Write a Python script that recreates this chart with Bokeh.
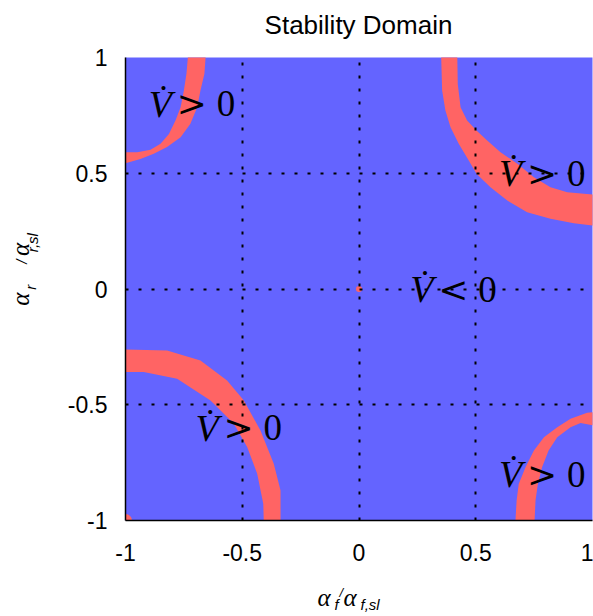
import numpy as np
from bokeh.plotting import figure
from bokeh.models import Range1d
from bokeh.layouts import column, row
from bokeh.core.properties import value
from bokeh.embed import file_html
from bokeh.resources import INLINE

RED = "#ff6464"
BLUE = "#6464ff"

# ---------------- data ----------------
ticks = [-1, -0.5, 0, 0.5, 1]
tick_labels = ["-1", "-0.5", "0", "0.5", "1"]

# band boundaries, measured as distances (u, v) from the corner of the domain
# top-left corner (-1, 1)
tl_outer_u = [0.343, 0.338, 0.321, 0.307, 0.278, 0.236, 0.178, 0.121, 0.064, 0.0]
tl_outer_v = [0.0, 0.070, 0.143, 0.215, 0.286, 0.344, 0.387, 0.416, 0.438, 0.457]
tl_inner_u = [0.267, 0.261, 0.250, 0.236, 0.214, 0.186, 0.150, 0.107, 0.050, 0.0]
tl_inner_v = [0.0, 0.070, 0.143, 0.215, 0.272, 0.330, 0.373, 0.399, 0.409, 0.409]
# top-right corner (1, 1)
tr_outer_u = [0.648, 0.644, 0.630, 0.608, 0.573, 0.530, 0.497, 0.437, 0.365, 0.280, 0.180, 0.080, 0.0]
tr_outer_v = [0.0, 0.143, 0.229, 0.301, 0.373, 0.445, 0.502, 0.560, 0.618, 0.668, 0.697, 0.716, 0.726]
tr_inner_u = [0.579, 0.577, 0.565, 0.537, 0.497, 0.451, 0.394, 0.322, 0.251, 0.180, 0.108, 0.0]
tr_inner_v = [0.0, 0.114, 0.215, 0.272, 0.315, 0.359, 0.409, 0.459, 0.517, 0.560, 0.582, 0.592]
# bottom-left corner (-1, -1)
bl_outer_u = [0.0, 0.178, 0.321, 0.435, 0.507, 0.578, 0.635, 0.664, 0.664]
bl_outer_v = [0.739, 0.734, 0.691, 0.605, 0.518, 0.389, 0.245, 0.130, 0.0]
bl_inner_u = [0.0, 0.078, 0.221, 0.364, 0.464, 0.521, 0.564, 0.590, 0.592]
bl_inner_v = [0.641, 0.641, 0.612, 0.518, 0.418, 0.317, 0.202, 0.072, 0.0]
# bottom-right corner (1, -1)
br_outer_u = [0.330, 0.325, 0.316, 0.287, 0.251, 0.208, 0.151, 0.094, 0.023, 0.0]
br_outer_v = [0.0, 0.086, 0.158, 0.230, 0.302, 0.360, 0.403, 0.439, 0.465, 0.468]
br_inner_u = [0.248, 0.244, 0.234, 0.216, 0.188, 0.151, 0.094, 0.051, 0.0]
br_inner_v = [0.0, 0.086, 0.158, 0.230, 0.302, 0.360, 0.403, 0.421, 0.411]

# small isolated unstable spots
spot_x = [0.0, -1.0]
spot_y = [0.0, -1.0]

# annotations  V-dot  (relation) 0
note_x = [-0.9, 0.6, 0.22, -0.7, 0.6]
note_y = [0.8, 0.5, 0.0, -0.6, -0.8]
note_lhs = ["V\u0307"] * 5
note_rel = [">", ">", "<", ">", ">"]
note_rhs = ["0"] * 5

title_text = "Stability Domain"

# ---------------- layout geometry (pixels) ----------------
W, H = 593, 616
TOP_H = 40          # title strip
BOT_H = 36          # x-label strip
LEFT_W = 60         # y-label strip
MAIN_W, MAIN_H = W - LEFT_W, H - TOP_H - BOT_H
FRAME_L, FRAME_T = 125, 57
FRAME_R, FRAME_B = 592, 520


def text_fig(w, h):
    f = figure(width=w, height=h, x_range=Range1d(0, w), y_range=Range1d(0, h),
               output_backend="svg", toolbar_location=None, title=None,
               min_border=0, x_axis_location=None, y_axis_location=None)
    f.grid.visible = False
    f.outline_line_color = None
    f.background_fill_color = "white"
    f.border_fill_color = "white"
    return f


# ---------------- main plot ----------------
p = figure(width=MAIN_W, height=MAIN_H, x_range=Range1d(-1, 1), y_range=Range1d(-1, 1),
           output_backend="svg", toolbar_location=None, title=None,
           min_border_left=FRAME_L - LEFT_W, min_border_right=W - FRAME_R,
           min_border_top=FRAME_T - TOP_H, min_border_bottom=(TOP_H + MAIN_H) - FRAME_B)
p.background_fill_color = BLUE
p.border_fill_color = "white"
p.outline_line_color = None

corners = [
    (-1, 1, tl_outer_u, tl_outer_v, tl_inner_u, tl_inner_v),
    (1, 1, tr_outer_u, tr_outer_v, tr_inner_u, tr_inner_v),
    (-1, -1, bl_outer_u, bl_outer_v, bl_inner_u, bl_inner_v),
    (1, -1, br_outer_u, br_outer_v, br_inner_u, br_inner_v),
]


def extend(us, vs):
    us, vs = list(us), list(vs)
    if vs[0] == 0:
        us.insert(0, us[0]); vs.insert(0, -0.05)
    elif us[0] == 0:
        us.insert(0, -0.05); vs.insert(0, vs[0])
    if vs[-1] == 0:
        us.append(us[-1]); vs.append(-0.05)
    elif us[-1] == 0:
        us.append(-0.05); vs.append(vs[-1])
    return us, vs


xs, ys = [], []
for cx, cy, ou, ov, iu, iv in corners:
    ou2, ov2 = extend(ou, ov)
    iu2, iv2 = extend(iu, iv)
    u = np.array(ou2 + iu2[::-1])
    v = np.array(ov2 + iv2[::-1])
    sx = -1 if cx > 0 else 1
    sy = -1 if cy > 0 else 1
    xs.append(list(cx + sx * u))
    ys.append(list(cy + sy * v))

p.patches(xs, ys, fill_color=RED, line_color=None)
p.circle(spot_x[:1], spot_y[:1], radius=0.013, fill_color=RED, line_color=None)
p.circle(spot_x[1:], spot_y[1:], radius=0.028, fill_color=RED, line_color=None)

p.text(note_x, note_y, text=note_lhs, text_font=value("Liberation Serif"),
       text_font_style="italic", text_font_size="38px", text_baseline="alphabetic",
       text_align="left", y_offset=0, x_offset=0, text_color="black")
p.text(note_x, note_y, text=note_rel, text_font=value("DejaVu Serif"),
       text_font_size="36px", text_baseline="alphabetic",
       text_align="left", y_offset=0, x_offset=28, text_color="black")
p.text(note_x, note_y, text=note_rhs, text_font=value("Liberation Serif"),
       text_font_size="37px", text_baseline="alphabetic",
       text_align="left", y_offset=0, x_offset=68, text_color="black")

for ax in (p.xaxis, p.yaxis):
    ax.ticker = ticks
    ax.major_label_overrides = dict(zip(ticks, tick_labels))
    ax.major_tick_line_color = None
    ax.minor_tick_line_color = None
    ax.axis_line_color = "black"
    ax.axis_line_width = 1.5
    ax.major_label_text_font = "Liberation Sans"
    ax.major_label_text_font_size = "23px"
    ax.major_label_text_color = "black"
p.xaxis.major_label_standoff = 17
p.yaxis.major_label_standoff = 12

p.grid.grid_line_color = "black"
p.grid.grid_line_width = 2
p.grid.grid_line_dash = "3 10"
p.grid.level = "overlay"

# ---------------- title strip ----------------
ft = text_fig(W, TOP_H)
ft.text([358], [TOP_H - 24], text=[title_text], text_font=value("Liberation Sans"),
        text_font_size="26px", text_align="center", text_baseline="alphabetic",
        text_color="black")

# ---------------- x-label strip: alpha_f / alpha_f,sl ----------------
fx = text_fig(W, BOT_H)
x0 = TOP_H + MAIN_H
xparts = [("\u03b1", 317, 597, "25px", "Liberation Serif"),
          ("f", 334, 604, "15px", "Liberation Sans"),
          ("/", 339, 592, "13px", "Liberation Sans"),
          ("\u03b1", 343, 597, "25px", "Liberation Serif"),
          ("f,sl", 360, 604, "15px", "Liberation Sans")]
for t, px, py, fs, fnt in xparts:
    fx.text([px], [BOT_H - (py - x0)], text=[t], text_font=value(fnt),
            text_font_style="italic", text_font_size=fs, text_baseline="alphabetic",
            text_align="left", text_color="black")

# ---------------- y-label strip: alpha_r / alpha_r,sl (rotated, centred parts) ----------------
fy = text_fig(LEFT_W, MAIN_H)
yparts = [("\u03b1", 20, 322, "25px", "Liberation Serif"),
          ("r", 30, 308, "15px", "Liberation Sans"),
          ("/", 21, 278, "15px", "Liberation Sans"),
          ("\u03b1", 20, 264, "25px", "Liberation Serif"),
          ("r,sl", 32, 256, "15px", "Liberation Sans")]
for t, px, py, fs, fnt in yparts:
    fy.text([px], [MAIN_H - (py - TOP_H)], text=[t], text_font=value(fnt),
            text_font_style="italic", text_font_size=fs, text_baseline="middle",
            text_align="center", angle=np.pi / 2, text_color="black")

layout = column(ft, row(fy, p), fx)
open("out.html", "w").write(file_html(layout, INLINE))
